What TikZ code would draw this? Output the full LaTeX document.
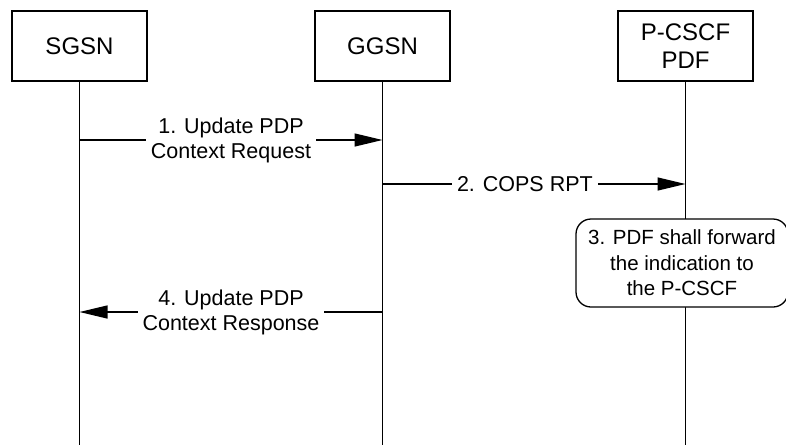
\documentclass[tikz,border=0pt]{standalone}
\usepackage{fontspec}
\setmainfont{Liberation Sans}
\usetikzlibrary{arrows.meta, positioning}

\tikzset{
  entity/.style={draw, line width=1.3pt, minimum width=135pt, minimum height=70pt,
    align=center, inner sep=0pt, font=\fontsize{24}{28}\selectfont},
  msg/.style={line width=1.3pt, -{Triangle[length=28pt,width=13pt]}},
  msglabel/.style={fill=white, align=center, inner sep=5pt,
    font=\fontsize{21.5}{25}\selectfont},
  action/.style={draw, line width=1.3pt, fill=white, rounded corners=15pt,
    minimum width=212pt, minimum height=88pt, align=center,
    font=\fontsize{20.5}{25.5}\selectfont}
}

\begin{document}
\begin{tikzpicture}[x=1pt,y=-1pt]
  \useasboundingbox (0,0) rectangle (786,445);
  \clip (0,0) rectangle (786,445);

  % Kotak entitas
  \node[entity] (sgsn) at (79.5,46) {SGSN};
  \node[entity] (ggsn) at (382.5,46) {GGSN};
  \node[entity] (pcscf) at (685.5,46) {P-CSCF\\PDF};

  % Garis hidup
  \foreach \n in {sgsn,ggsn,pcscf} {
    \coordinate (\n-end) at (\n.south |- 0,445);
    \draw[line width=1.3pt] (\n.south) -- (\n-end);
  }

  % Pesan
  \coordinate (m1a) at (sgsn.south |- 0,140);
  \coordinate (m1b) at (ggsn.south |- 0,140);
  \draw[msg] (m1a) -- node[msglabel] {1. Update PDP\\Context Request} (m1b);

  \coordinate (m2a) at (ggsn.south |- 0,184);
  \coordinate (m2b) at (pcscf.south |- 0,184);
  \draw[msg] (m2a) -- node[msglabel, pos=0.47] {2. COPS RPT} (m2b);

  \node[action] (fwd) at (682,263) {3. PDF shall forward\\the indication to\\the P-CSCF};

  \coordinate (m4a) at (ggsn.south |- 0,312);
  \coordinate (m4b) at (sgsn.south |- 0,312);
  \draw[msg] (m4a) -- node[msglabel] {4. Update PDP\\Context Response} (m4b);
\end{tikzpicture}
\end{document}
